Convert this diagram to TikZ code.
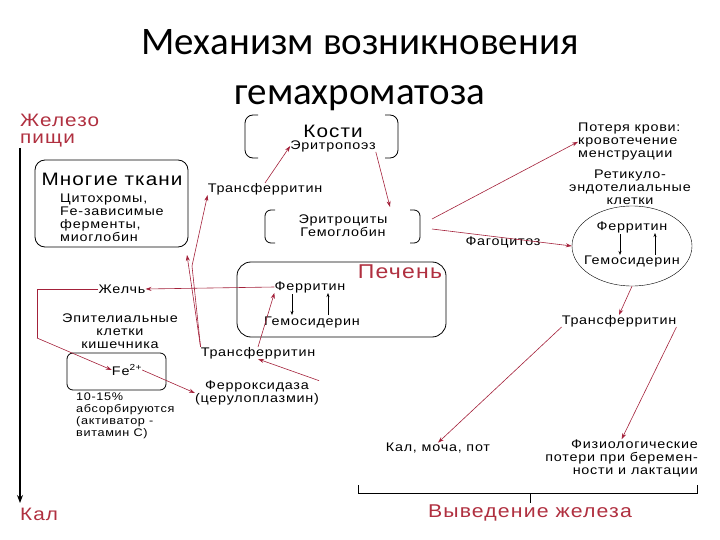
\documentclass[tikz,border=0pt]{standalone}
\usepackage{fontspec}
\setmainfont{Liberation Sans}[LetterSpace=6,FakeStretch=1.15]
\newfontfamily\titlefont{Carlito}
\usetikzlibrary{arrows.meta,shapes.geometric}
\definecolor{dred}{HTML}{A3213A}
\definecolor{tred}{HTML}{B03040}
\begin{document}
\begin{tikzpicture}[x=1pt,y=-1pt,
  txt/.style={font=\fontsize{12.5}{13}\selectfont,inner sep=0pt,align=center},
  rtxt/.style={font=\fontsize{18}{17}\selectfont,text=tred,inner sep=0pt,align=left},
  box/.style={draw,rounded corners=10pt,thick},
  arr/.style={dred,-{Stealth[length=6pt,width=4pt]},semithick},
  sarr/.style={-{Stealth[length=4pt,width=3pt]},semithick},
  ln/.style={dred,semithick}]
\useasboundingbox (0,0) rectangle (720,540);
\node[font=\titlefont\fontsize{39}{50}\selectfont,align=center] (title) at (360,70) {Механизм возникновения\\гемахроматоза};
% left column
\node[rtxt,anchor=north west] (food) at (20,114) {Железо\\пищи};
\node[rtxt,anchor=west] (kal) at (20,514) {Кал};
\coordinate (lt) at (20,148);
\coordinate (lb) at (20,503);
\draw[very thick,-{Stealth[length=8pt]}] (lt) -- (lb);
% Многие ткани
\draw[box] (35,160) rectangle (188,247);
\node[font=\fontsize{18}{18}\selectfont,inner sep=0pt] (mt) at (112,179) {Многие ткани};
\node[txt,align=left,anchor=north west] (mtt) at (60,194) {Цитохромы,\\Fe-зависимые\\ферменты,\\миоглобин};
% Кости
\draw[thick,rounded corners=8pt] (258,115) -- (245,115) -- (245,158) -- (258,158);
\draw[thick,rounded corners=8pt] (385,115) -- (398,115) -- (398,158) -- (385,158);
\node[font=\fontsize{18}{18}\selectfont,inner sep=0pt] (kosti) at (333,131) {Кости};
\node[txt] (erp) at (333,146) {Эритропоэз};
% Эритроциты
\draw[thick,rounded corners=6pt] (275,210) -- (265,210) -- (265,243) -- (275,243);
\draw[thick,rounded corners=6pt] (410,210) -- (420,210) -- (420,243) -- (410,243);
\node[txt] (ery) at (343,226) {Эритроциты\\Гемоглобин};
% Печень
\draw[box,rounded corners=14pt] (237,262) rectangle (446,337);
\node[font=\fontsize{20}{20}\selectfont,text=tred,inner sep=0pt] (pech) at (400,272) {Печень};
\node[txt] (lfer) at (310,287) {Ферритин};
\node[txt] (lgem) at (312,322) {Гемосидерин};
\draw[sarr] (292,294) -- (292,315);
\draw[sarr] (328,315) -- (328,293);
% left lower
\node[txt] (bile) at (122,289) {Желчь};
\node[txt] (epi) at (120,331) {Эпителиальные\\клетки\\кишечника};
\draw[box,rounded corners=6pt] (67,353) rectangle (166,390);
\node[txt] (fe) at (127,370) {Fe\textsuperscript{2+}};
\node[txt,align=left,anchor=north west,font=\fontsize{11}{12}\selectfont] (pct) at (76,393) {10-15\%\\абсорбируются\\(активатор -\\витамин С)};
\node[txt] (tr1) at (258,353) {Трансферритин};
\node[txt] (fox) at (257,393) {Ферроксидаза\\(церулоплазмин)};
\node[txt] (tr0) at (265,189) {Трансферритин};
% right
\node[txt,align=left,anchor=north west] (loss) at (578,123) {Потеря крови:\\кровотечение\\менструации};
\node[txt] (res) at (630,187) {Ретикуло-\\эндотелиальные\\клетки};
\node[draw,ellipse,minimum width=120pt,minimum height=80pt] (circ) at (632,246) {};
\node[txt] (rfer) at (632,227) {Ферритин};
\node[txt] (rgem) at (632,261) {Гемосидерин};
\draw[sarr] (620,234) -- (620,255);
\draw[sarr] (655,255) -- (655,233);
\node[txt] (fag) at (503,242) {Фагоцитоз};
\node[txt] (tr2) at (619,321) {Трансферритин};
\node[txt] (kmp) at (438,448) {Кал, моча, пот};
\node[txt,align=right,anchor=east] (phys) at (698,458) {Физиологические\\потери при беремен-\\ности и лактации};
\node[font=\fontsize{18.5}{18}\selectfont,text=tred,inner sep=0pt] (out) at (530,513) {Выведение железа};
\coordinate (b1) at (358,485); \coordinate (b2) at (697,485);
\draw[thick] (b1) -- (358,493) -- (697,493) -- (b2);
\draw[thick] (530,493) -- (530,503);
% arrows
\coordinate (c0) at (37,289);
\coordinate (c1) at (37,338);
\draw[ln] (c0) -- (c1);
\draw[arr] (c1) -- (fe.west);
\draw[ln] (c0) -- (bile.west);
\draw[arr] (lfer.west) -- (bile.east);
\draw[arr] (fe.east) -- (fox.west);
\draw[arr] (fox.north east) -- (tr1.south);
\draw[arr] (tr1.north) -- (lfer.south west);
\draw[arr] (tr1.north west) -- (187,255);
\coordinate (c2) at (192,266);
\draw[ln] (tr1.north west) -- (c2);
\draw[arr] (c2) -- (tr0.south west);
\draw[arr] (tr0.north) -- (erp.west);
\draw[arr] (erp.south east) -- (390,207);
\draw[arr] (432,219) -- (loss.west);
\draw[arr] (432,229) -- (circ.west);
\draw[arr] (circ.south) -- (tr2.north);
\draw[arr] (tr2.south west) -- (kmp.north);
\draw[arr] (tr2.south east) -- (phys.north);
\end{tikzpicture}
\end{document}
